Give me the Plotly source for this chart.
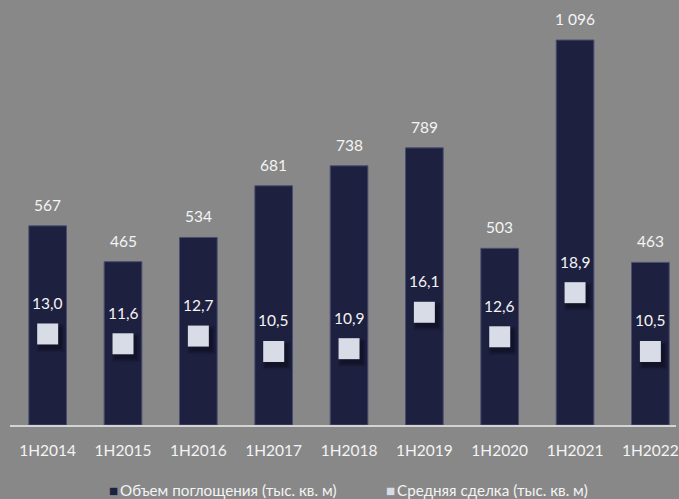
import plotly.graph_objects as go

# Полугодовые данные рынка
periods = ["1H2014", "1H2015", "1H2016", "1H2017", "1H2018",
           "1H2019", "1H2020", "1H2021", "1H2022"]
absorption = [567, 465, 534, 681, 738, 789, 503, 1096, 463]   # тыс. кв. м
avg_deal = [13.0, 11.6, 12.7, 10.5, 10.9, 16.1, 12.6, 18.9, 10.5]  # тыс. кв. м
series_names = ["Объем поглощения (тыс. кв. м)", "Средняя сделка (тыс. кв. м)"]

BG = "#888888"
BAR = "#1e2040"
MARK = "#d8dce6"
TXT = "#f4f4f4"
FONT = "Lato, 'Open Sans', sans-serif"

def fmt_int(v):
    return f"{v:,}".replace(",", " ")

def fmt_dec(v):
    return f"{v:.1f}".replace(".", ",")

W, H = 679, 499
ML, MB = 10, 74
X_RANGE = [-0.5, 8.34]
Y_RANGE = [0, 1210]
Y2_RANGE = [0, 60.7]

# pixel size of one unit on each axis, used to offset the marker shadow
plot_w = W - ML
plot_h = H - MB
dx = (X_RANGE[1] - X_RANGE[0]) / plot_w * 3
dy = (Y2_RANGE[1] - Y2_RANGE[0]) / plot_h * 4
idx = list(range(len(periods)))

fig = go.Figure()

fig.add_trace(go.Bar(
    x=idx, y=absorption, name=series_names[0],
    marker=dict(color=BAR, line=dict(color="#4a4e70", width=1)),
    width=0.5, xaxis="x", yaxis="y", showlegend=False,
))

# soft shadow under the squares, drawn on shifted overlay axes
for size, alpha in [(28, 0.18), (25, 0.25), (22, 0.3)]:
    fig.add_trace(go.Scatter(
        x=idx, y=avg_deal, mode="markers",
        marker=dict(symbol="square", size=size, color=f"rgba(10,10,25,{alpha})",
                    line=dict(width=0)),
        showlegend=False, hoverinfo="skip", xaxis="x3", yaxis="y3",
    ))

fig.add_trace(go.Scatter(
    x=idx, y=avg_deal, mode="markers", name=series_names[1],
    marker=dict(symbol="square", size=21, color=MARK, line=dict(width=0)),
    xaxis="x4", yaxis="y4", showlegend=False,
))

annotations = []
for i, v in zip(idx, absorption):
    annotations.append(dict(
        x=i, y=v, xref="x", yref="y", text=fmt_int(v), showarrow=False,
        yanchor="middle", yshift=21, font=dict(family=FONT, size=15.5, color=TXT),
    ))
for i, v in zip(idx, avg_deal):
    annotations.append(dict(
        x=i, y=v, xref="x", yref="y2", text=fmt_dec(v), showarrow=False,
        yanchor="middle", yshift=31, font=dict(family=FONT, size=15.5, color=TXT),
    ))

# legend row under the axis (paper coordinates are relative to the plot area)
for xpos, color, label in [(107, BAR, series_names[0]), (386, MARK, series_names[1])]:
    annotations.append(dict(
        x=(xpos - ML) / plot_w, y=(plot_h - 490) / plot_h,
        xref="paper", yref="paper",
        xanchor="left", yanchor="middle", showarrow=False,
        text=f'<span style="color:{color}">■</span>\u2009{label}',
        font=dict(family=FONT, size=15.2, color=TXT),
    ))

hidden = dict(visible=False, showgrid=False, zeroline=False)

fig.update_layout(
    width=W, height=H,
    paper_bgcolor=BG, plot_bgcolor=BG,
    margin=dict(l=ML, r=0, t=0, b=MB),
    font=dict(family=FONT, color=TXT, size=14),
    showlegend=False,
    xaxis=dict(
        range=X_RANGE, tickmode="array", tickvals=idx, ticktext=periods,
        showgrid=False, zeroline=False,
        showline=True, linecolor="#d4d4d4", linewidth=2,
        ticks="", ticklabelstandoff=10, ticklabeloverflow="allow",
        tickfont=dict(family=FONT, size=15.5, color=TXT),
    ),
    yaxis=dict(range=Y_RANGE, **hidden),
    yaxis2=dict(range=Y2_RANGE, overlaying="y", **hidden),
    xaxis3=dict(range=[X_RANGE[0] - dx, X_RANGE[1] - dx], overlaying="x", **hidden),
    yaxis3=dict(range=[Y2_RANGE[0] + dy, Y2_RANGE[1] + dy], overlaying="y", **hidden),
    xaxis4=dict(range=X_RANGE, overlaying="x", **hidden),
    yaxis4=dict(range=Y2_RANGE, overlaying="y", **hidden),
    annotations=annotations,
)

fig.write_html("out.html")
